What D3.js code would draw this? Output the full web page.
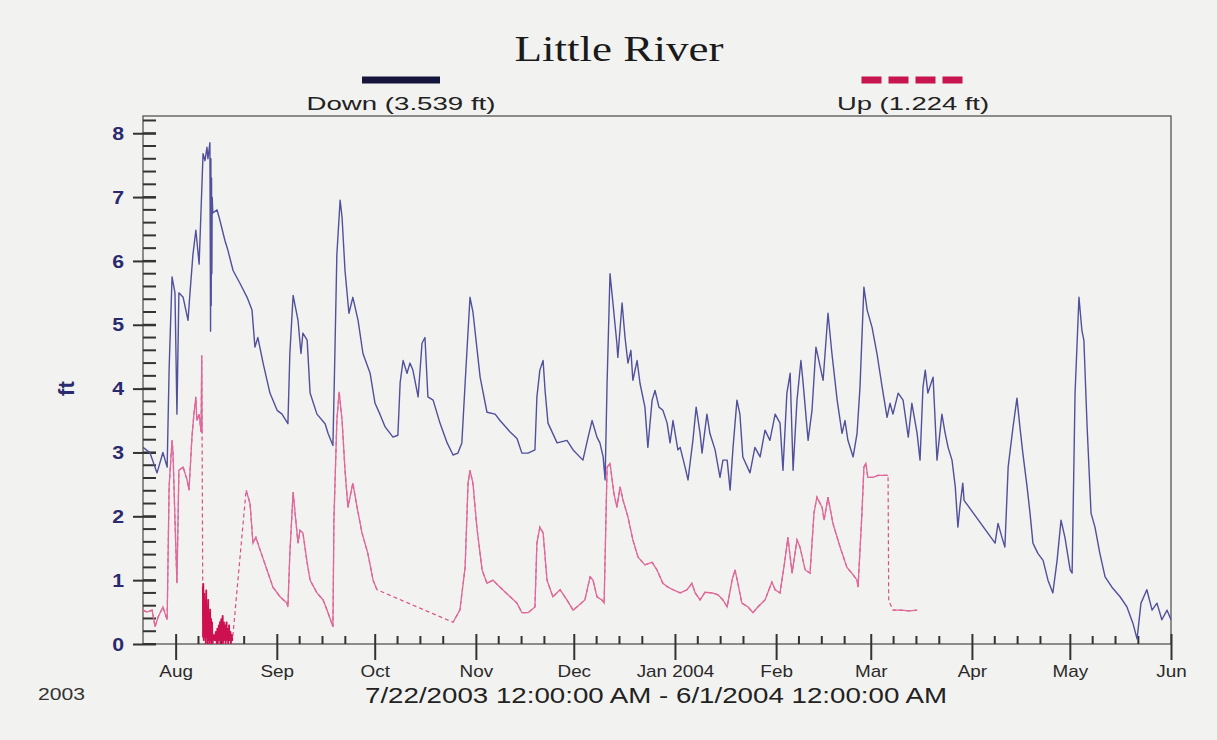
<!DOCTYPE html>
<html>
<head>
<meta charset="utf-8">
<script src="https://cdn.jsdelivr.net/npm/d3@7"></script>
<style>
  body { margin: 0; background: #f2f2f0; }
  svg { display: block; font-family: "Liberation Sans", Arial, sans-serif; }
</style>
</head>
<body>
<svg width="1217" height="740"></svg>
<script>
// period shown: 7/22/2003 - 6/1/2004, x values are days since start
var startDate = new Date(2003, 6, 22),
    endDate = new Date(2004, 5, 1);

var yTicks = [0, 1, 2, 3, 4, 5, 6, 7, 8];
var monthLabels = ["Aug", "Sep", "Oct", "Nov", "Dec", "Jan 2004", "Feb", "Mar", "Apr", "May", "Jun"];

// Down gauge [day, ft]
var downSeries = [
  [0, 3.08], [2.1, 3.0], [4.3, 2.68], [6.1, 3.0], [7.4, 2.77], [8.0, 4.3], [8.9, 5.75], [9.8, 5.5],
  [10.4, 3.6], [11.0, 5.5], [12.3, 5.43], [13.8, 5.07], [14.4, 5.5], [15.3, 6.1], [16.2, 6.48],
  [17.2, 5.95], [18.4, 7.68], [19.0, 7.57], [19.6, 7.78], [19.9, 7.6], [20.5, 7.85], [20.7, 4.9],
  [20.8, 7.6], [20.9, 5.3], [21.0, 7.3], [21.1, 5.8], [21.2, 7.0], [21.4, 6.75], [22.7, 6.8],
  [23.6, 6.63], [25.1, 6.32], [26.0, 6.17], [27.6, 5.85], [29.7, 5.65], [31.9, 5.43], [33.4, 5.23],
  [34.3, 4.65], [35.2, 4.8], [36.8, 4.4], [38.9, 3.93], [41.1, 3.66], [42.6, 3.6], [44.4, 3.45],
  [45.0, 4.55], [46.0, 5.46], [47.5, 5.07], [48.4, 4.55], [49.0, 4.87], [50.3, 4.76], [51.2, 3.93],
  [53.3, 3.6], [55.8, 3.45], [56.7, 3.3], [58.2, 3.11], [58.8, 4.55], [59.4, 6.1], [60.4, 6.95],
  [61.0, 6.68], [61.9, 5.85], [63.1, 5.18], [64.3, 5.43], [65.9, 5.07], [67.4, 4.55], [69.6, 4.24],
  [71.1, 3.77], [72.6, 3.6], [74.2, 3.4], [76.6, 3.24], [78.1, 3.27], [78.8, 4.1], [79.7, 4.44],
  [80.9, 4.24], [81.8, 4.4], [82.7, 4.29], [84.3, 3.87], [85.5, 4.71], [86.4, 4.8], [87.3, 3.87],
  [88.9, 3.82], [91.0, 3.46], [93.2, 3.15], [95.0, 2.96], [96.5, 2.99], [97.7, 3.15], [98.7, 4.08],
  [100.2, 5.43], [101.1, 5.2], [103.3, 4.18], [105.4, 3.63], [107.9, 3.6], [109.4, 3.5], [112.5, 3.32],
  [114.6, 3.22], [116.1, 2.99], [118.0, 2.99], [120.1, 3.04], [120.7, 3.87], [121.6, 4.29],
  [122.6, 4.44], [123.2, 3.97], [124.1, 3.46], [126.9, 3.15], [129.9, 3.19], [131.8, 3.04],
  [134.8, 2.88], [136.4, 3.24], [137.6, 3.5], [139.1, 3.24], [140.0, 3.15], [141.0, 2.93],
  [141.6, 2.57], [142.2, 4.08], [143.1, 5.8], [144.0, 5.34], [145.2, 4.71], [145.5, 4.49],
  [146.8, 5.34], [147.7, 4.8], [148.6, 4.4], [149.5, 4.6], [150.1, 4.13], [151.4, 4.44], [152.3, 4.08],
  [153.8, 3.71], [154.7, 3.08], [156.0, 3.82], [156.9, 3.97], [158.1, 3.71], [159.3, 3.66],
  [160.6, 3.46], [161.5, 3.15], [162.4, 3.5], [163.9, 3.04], [164.6, 3.08], [166.1, 2.77],
  [167.0, 2.57], [168.5, 3.19], [169.5, 3.71], [170.7, 3.3], [171.3, 2.99], [172.8, 3.6], [173.7, 3.3],
  [175.3, 3.04], [176.8, 2.61], [177.7, 2.88], [179.0, 2.88], [179.9, 2.41], [180.8, 3.08],
  [182.0, 3.82], [182.9, 3.6], [183.8, 2.93], [186.0, 2.68], [187.5, 3.08], [189.1, 2.93],
  [190.6, 3.35], [192.1, 3.19], [193.7, 3.6], [195.2, 3.46], [196.1, 2.72], [197.3, 3.93],
  [198.3, 4.24], [199.2, 2.72], [200.4, 3.82], [201.6, 4.44], [202.2, 4.13], [203.8, 3.19],
  [205.0, 3.66], [206.2, 4.65], [207.1, 4.44], [208.4, 4.13], [209.9, 5.18], [211.1, 4.55],
  [212.7, 3.82], [214.2, 3.3], [215.1, 3.5], [216.0, 3.19], [217.6, 2.93], [218.8, 3.3], [219.7, 4.02],
  [220.9, 5.59], [221.9, 5.23], [223.4, 4.96], [224.9, 4.55], [226.5, 4.02], [228.0, 3.55],
  [228.9, 3.77], [229.8, 3.6], [231.4, 3.93], [232.9, 3.82], [234.5, 3.24], [235.6, 3.77],
  [237.2, 3.3], [238.1, 2.88], [239.0, 4.02], [239.7, 4.29], [240.5, 3.93], [242.1, 4.18],
  [243.3, 2.88], [244.8, 3.6], [245.8, 3.3], [246.7, 3.08], [247.9, 2.88], [248.9, 2.46],
  [249.7, 1.83], [250.3, 2.14], [251.2, 2.52], [251.6, 2.25], [261.1, 1.58], [262.0, 1.89],
  [263.2, 1.67], [264.1, 1.52], [265.1, 2.77], [266.6, 3.4], [267.8, 3.85], [268.7, 3.4],
  [269.6, 2.99], [270.9, 2.46], [271.8, 2.05], [272.7, 1.58], [274.2, 1.42], [275.8, 1.31],
  [277.3, 1.0], [278.8, 0.8], [280.1, 1.31], [281.3, 1.94], [282.5, 1.67], [284.1, 1.16],
  [284.7, 1.11], [285.6, 3.93], [286.8, 5.43], [287.7, 4.91], [288.3, 4.76], [289.3, 3.4],
  [290.5, 2.05], [291.7, 1.83], [293.2, 1.42], [294.8, 1.05], [296.9, 0.89], [299.4, 0.74],
  [301.5, 0.58], [303.3, 0.33], [304.6, 0.08], [305.8, 0.64], [307.6, 0.85], [309.2, 0.53],
  [310.7, 0.64], [312.2, 0.38], [313.8, 0.53], [315.0, 0.38]
];

// Up gauge [day, ft]; null = missing data (drawn dashed across)
var upSeries = [
  [0, 0.53], [1.2, 0.5], [2.8, 0.53], [3.7, 0.27], [4.6, 0.42], [6.1, 0.58], [7.4, 0.38], [8.0, 2.46],
  [8.9, 3.19], [9.2, 3.0], [9.8, 1.94], [10.4, 0.95], [11.0, 2.72], [12.3, 2.77], [13.5, 2.57],
  [14.1, 2.41], [15.0, 3.24], [15.6, 3.6], [16.2, 3.87], [16.5, 3.5], [17.2, 3.6], [17.8, 3.32],
  [18.0, 4.52], [18.1, 3.3], [18.15, null],
  [18.3, 0.9], [18.4, 0.1], [18.5, 0.95], [18.6, 0.05], [18.8, 0.8], [18.9, 0.1], [19.1, 0.7],
  [19.2, 0.0], [19.4, 0.85], [19.5, 0.1], [19.7, 0.6], [19.8, 0.0], [20.0, 0.7], [20.1, 0.05],
  [20.3, 0.5], [20.4, 0.0], [20.6, 0.55], [20.7, 0.05], [20.9, 0.4], [21.0, 0.0], [21.2, 0.35],
  [21.3, 0.0], [21.6, 0.15], [22.0, 0.05], [22.3, 0.2], [22.6, 0.0], [22.8, 0.25], [22.9, 0.0],
  [23.2, 0.3], [23.3, 0.05], [23.6, 0.35], [23.7, 0.0], [24.0, 0.4], [24.1, 0.05], [24.4, 0.45],
  [24.5, 0.0], [24.8, 0.35], [24.9, 0.05], [25.2, 0.3], [25.3, 0.0], [25.6, 0.35], [25.7, 0.05],
  [26.0, 0.25], [26.1, 0.0], [26.4, 0.3], [26.5, 0.05], [26.8, 0.2], [26.9, 0.0], [27.2, 0.15],
  [27.4, 0.05], [27.5, null],
  [31.6, 2.41], [32.8, 2.2], [33.7, 1.58], [34.6, 1.67], [35.9, 1.47], [38.0, 1.16], [39.8, 0.89],
  [42.0, 0.74], [44.1, 0.64], [44.4, 0.58], [45.0, 1.42], [46.0, 2.38], [46.6, 2.05], [47.5, 1.58],
  [48.1, 1.78], [49.0, 1.74], [50.3, 1.27], [51.2, 1.0], [53.3, 0.8], [55.2, 0.69], [56.7, 0.49],
  [58.2, 0.27], [58.5, 1.94], [59.4, 3.5], [60.1, 3.95], [61.0, 3.5], [61.9, 2.72], [62.8, 2.14],
  [64.3, 2.52], [65.6, 2.14], [67.1, 1.74], [68.9, 1.42], [70.5, 1.0], [71.7, 0.85], [72.0, null],
  [95.0, 0.34], [97.1, 0.53], [98.7, 1.2], [99.6, 2.52], [100.2, 2.72], [101.1, 2.52], [102.3, 1.83],
  [103.9, 1.16], [105.4, 0.95], [107.2, 1.0], [109.4, 0.89], [112.5, 0.74], [114.6, 0.64],
  [116.1, 0.49], [118.0, 0.49], [120.1, 0.58], [120.7, 1.58], [121.6, 1.83], [122.6, 1.74],
  [123.8, 1.0], [125.6, 0.74], [127.8, 0.85], [129.9, 0.69], [131.8, 0.53], [135.4, 0.69],
  [137.0, 1.05], [137.9, 1.0], [139.1, 0.74], [140.6, 0.69], [141.3, 0.64], [142.2, 2.77],
  [143.1, 2.83], [144.3, 2.36], [145.2, 2.14], [146.2, 2.46], [147.1, 2.25], [148.6, 1.99],
  [150.1, 1.63], [151.7, 1.36], [153.8, 1.24], [156.0, 1.28], [157.5, 1.16], [159.3, 0.95],
  [160.9, 0.89], [162.4, 0.85], [164.6, 0.8], [166.7, 0.85], [168.2, 0.95], [169.2, 0.8],
  [170.7, 0.69], [172.2, 0.81], [174.4, 0.8], [176.2, 0.77], [177.7, 0.69], [179.0, 0.58],
  [180.5, 1.0], [181.4, 1.16], [182.3, 0.95], [183.5, 0.64], [185.4, 0.58], [186.9, 0.49],
  [188.4, 0.58], [190.6, 0.69], [192.7, 0.97], [193.7, 0.85], [195.2, 0.8], [196.7, 1.31],
  [197.6, 1.67], [198.9, 1.11], [200.4, 1.63], [201.3, 1.52], [202.9, 1.16], [204.4, 1.11],
  [205.6, 2.05], [206.5, 2.3], [208.1, 2.14], [208.7, 1.94], [209.9, 2.3], [211.4, 1.89],
  [213.6, 1.52], [215.7, 1.2], [217.2, 1.11], [218.8, 1.0], [219.1, 0.89], [220.3, 2.05],
  [220.9, 2.77], [221.5, 2.83], [222.1, 2.61], [223.7, 2.61], [225.2, 2.64], [228.3, 2.64],
  [228.35, null], [228.5, 0.68], [228.6, null],
  [229.8, 0.53], [232.0, 0.53], [235.0, 0.52], [237.2, 0.53]
];

var legendItems = [
  { name: "Down", mean: 3.539, color: "#16163c", dash: null },
  { name: "Up", mean: 1.224, color: "#c8144f", dash: "20,7" }
];

var svg = d3.select("svg"),
    margin = { top: 116, right: 46, bottom: 96, left: 143 },
    width = +svg.attr("width") - margin.left - margin.right,
    height = +svg.attr("height") - margin.top - margin.bottom;

function toDate(day) { return new Date(startDate.getTime() + day * 864e5); }

var x = d3.scaleTime().domain([startDate, endDate]).range([0, width]);
var y = d3.scaleLinear().domain([0, 8.27]).range([height, 0]);

svg.append("rect").attr("width", 1217).attr("height", 740).attr("fill", "#f2f2f0");

// title + legend
svg.append("text")
    .attr("x", 619).attr("y", 61)
    .attr("text-anchor", "middle")
    .attr("font-family", "'Liberation Serif', 'Times New Roman', serif")
    .attr("font-size", 35)
    .attr("textLength", 209).attr("lengthAdjust", "spacingAndGlyphs")
    .attr("fill", "#1a1a1a")
    .text("Little River");

var legendX = [401, 913], legendW = [78, 103], labelW = [189, 152];
var leg = svg.selectAll(".legend").data(legendItems).enter().append("g")
    .attr("class", "legend")
    .attr("transform", function(d, i) { return "translate(" + legendX[i] + ",0)"; });

leg.append("line")
    .attr("x1", function(d, i) { return -legendW[i] / 2; })
    .attr("x2", function(d, i) { return legendW[i] / 2; })
    .attr("y1", 80).attr("y2", 80)
    .attr("stroke", function(d) { return d.color; })
    .attr("stroke-width", 7)
    .attr("stroke-dasharray", function(d) { return d.dash; });

leg.append("text")
    .attr("y", 110)
    .attr("text-anchor", "middle")
    .attr("font-size", 19)
    .attr("textLength", function(d, i) { return labelW[i]; })
    .attr("lengthAdjust", "spacingAndGlyphs")
    .attr("fill", "#222")
    .text(function(d) { return d.name + " (" + d.mean.toFixed(3) + " ft)"; });

var g = svg.append("g")
    .attr("transform", "translate(" + margin.left + "," + margin.top + ")");

// frame
g.append("rect")
    .attr("width", width).attr("height", height)
    .attr("fill", "none").attr("stroke", "#555").attr("stroke-width", 1.3);

// y axis: minor ticks inside, major crossing
var yMinor = d3.range(0, 8.21, 0.2);
g.append("g").attr("class", "y-minor").selectAll("line").data(yMinor).enter().append("line")
    .attr("x1", 0).attr("x2", 13)
    .attr("y1", function(d) { return y(d); })
    .attr("y2", function(d) { return y(d); })
    .style("stroke", "#333").style("stroke-width", "2px");

g.append("g")
    .attr("class", "axis axis--y")
    .call(d3.axisLeft(y).tickValues(yTicks).tickSize(10).tickPadding(8).tickFormat(d3.format("d")))
    .call(function(a) {
        a.select(".domain").remove();
        a.selectAll("line").style("stroke", "#333").style("stroke-width", "2px").attr("x2", -10).attr("x1", 13);
        a.selectAll("text")
            .attr("font-size", 19).attr("font-weight", "bold").attr("fill", "#2a2a6e")
            .attr("x", -17)
            .attr("transform", "scale(1.12,1)");
    });

g.append("text")
    .attr("transform", "translate(-77," + y(4) + ") rotate(-90)")
    .attr("text-anchor", "middle")
    .attr("dy", "0.35em")
    .attr("font-size", 22).attr("font-weight", "bold").attr("fill", "#2a2a6e")
    .text("ft");

// x axis: month ticks crossing, weekly minor ticks inside
var months = d3.timeMonth.range(new Date(2003, 7, 1), new Date(2004, 5, 2));
var xMinor = [];
months.concat([new Date(2003, 6, 1)]).forEach(function(m) {
    [8, 15, 22].forEach(function(dd) {
        var t = new Date(m.getFullYear(), m.getMonth(), dd);
        if (t > startDate && t < endDate) xMinor.push(t);
    });
});

g.append("g").attr("class", "x-minor").selectAll("line").data(xMinor).enter().append("line")
    .attr("x1", function(d) { return x(d); })
    .attr("x2", function(d) { return x(d); })
    .attr("y1", height).attr("y2", height - 8)
    .style("stroke", "#333").style("stroke-width", "2px");

g.append("g")
    .attr("class", "axis axis--x")
    .attr("transform", "translate(0," + height + ")")
    .call(d3.axisBottom(x).tickValues(months).tickSize(16).tickPadding(6)
        .tickFormat(function(d, i) { return monthLabels[i]; }))
    .call(function(a) {
        a.select(".domain").remove();
        a.selectAll("line").style("stroke", "#333").style("stroke-width", "2px").attr("y1", -10);
        a.selectAll("text")
            .attr("font-size", 16).attr("fill", "#2a2a2a")
            .attr("transform", "scale(1.18,1)");
    });

svg.append("text")
    .attr("x", 38).attr("y", 700)
    .attr("font-size", 17).attr("fill", "#333")
    .attr("textLength", 47).attr("lengthAdjust", "spacingAndGlyphs")
    .text(startDate.getFullYear());

svg.append("text")
    .attr("x", 656).attr("y", 703)
    .attr("text-anchor", "middle")
    .attr("font-size", 22).attr("fill", "#222")
    .attr("textLength", 582).attr("lengthAdjust", "spacingAndGlyphs")
    .text(d3.timeFormat("%-m/%-d/%Y")(startDate) + " 12:00:00 AM - " + d3.timeFormat("%-m/%-d/%Y")(endDate) + " 12:00:00 AM");

// series
var line = d3.line()
    .x(function(d) { return x(toDate(d[0])); })
    .y(function(d) { return y(d[1]); });

var plot = g.append("g");

plot.append("path")
    .datum(upSeries.filter(function(d) { return d[1] !== null; }))
    .attr("fill", "none")
    .attr("stroke", "#d85088")
    .attr("stroke-width", 1.2)
    .attr("stroke-dasharray", "4,3")
    .attr("d", line);

plot.append("path")
    .datum(upSeries)
    .attr("fill", "none")
    .attr("stroke", "#e0689a")
    .attr("stroke-width", 1.3)
    .attr("d", line.defined(function(d) { return d[1] !== null; }));

// dense stretch in mid August reads as solid crimson
plot.append("path")
    .datum(upSeries.filter(function(d) { return d[0] > 18.2 && d[0] < 27.5; }))
    .attr("fill", "none")
    .attr("stroke", "#cc1050")
    .attr("stroke-width", 1.6)
    .attr("d", line);

plot.append("path")
    .datum(downSeries)
    .attr("fill", "none")
    .attr("stroke", "#50509c")
    .attr("stroke-width", 1.4)
    .attr("stroke-linejoin", "round")
    .attr("d", line);
</script>
</body>
</html>
